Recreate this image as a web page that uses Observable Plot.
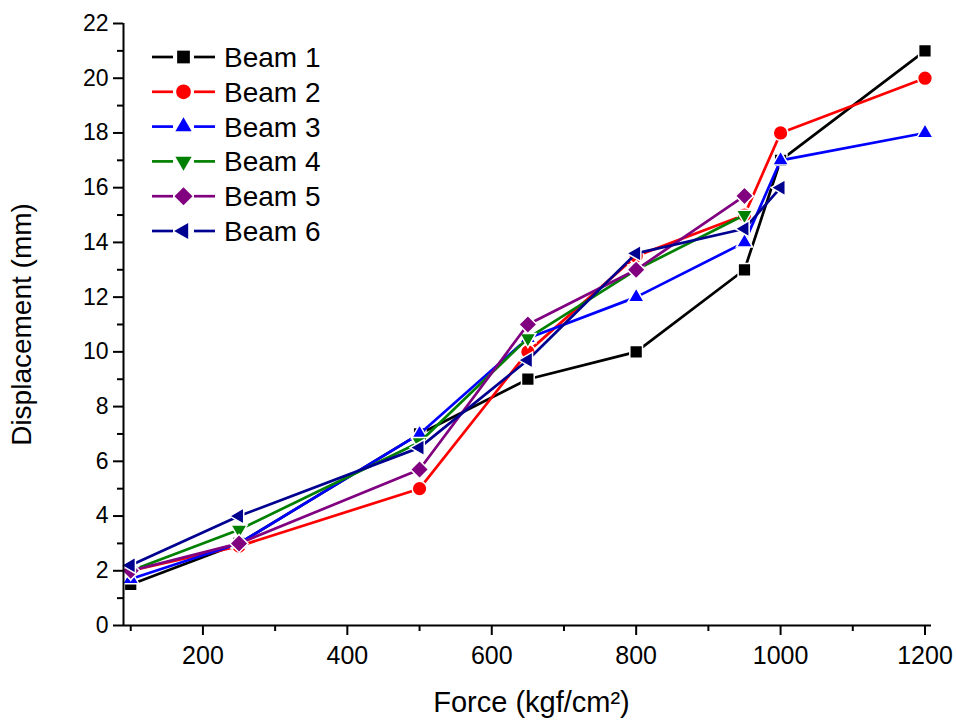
<!DOCTYPE html>
<html><head><meta charset="utf-8">
<script src="https://cdn.jsdelivr.net/npm/d3@7"></script>
<script src="https://cdn.jsdelivr.net/npm/@observablehq/plot@0.6"></script>
<style>
body{margin:0;background:#fff}
#wrap{position:relative;width:956px;height:722px}
#wrap svg{position:absolute;left:0;top:0}
</style>
</head><body><div id="wrap"></div>
<script>
const forces = [100, 250, 500, 650, 800, 950, 1000, 1200];
const beam1 = [1.5, 3, 7, 9, 10, 13, 17, 21];
const beam2 = [2, 2.9, 5, 10, 13.5, 15, 18, 20];
const beam3 = [1.7, 3, 7, 10.5, 12, 14, 17, 18];
const beam4 = [2, 3.5, 6.7, 10.5, 13, 15];
const beam5 = [2, 3, 5.7, 11, 13, 15.7];
const beam6 = [2.2, 4, 6.5, 9.7, 13.6, 14.5, 16];
const seriesNames = ["Beam 1", "Beam 2", "Beam 3", "Beam 4", "Beam 5", "Beam 6"];
const seriesValues = [beam1, beam2, beam3, beam4, beam5, beam6];
const seriesColors = ["#000000", "#ff0000", "#0000ff", "#008000", "#800080", "#000090"];
const xMajorTicks = [200, 400, 600, 800, 1000, 1200];
const xMinorTicks = [100, 300, 500, 700, 900, 1100];
const yMajorTicks = [0, 2, 4, 6, 8, 10, 12, 14, 16, 18, 20, 22];
const yMinorTicks = [1, 3, 5, 7, 9, 11, 13, 15, 17, 19, 21];
const xDomain = [90, 1209];
const yDomain = [0, 22];

const rad = s => Math.sqrt(s / Math.PI);
const symSquare = {draw(c, s){ const h = rad(s) * 0.95; c.rect(-h, -h, 2*h, 2*h); }};
const symCircle = {draw(c, s){ const r = rad(s) * 1.1; c.moveTo(r, 0); c.arc(0, 0, r, 0, 2*Math.PI); c.closePath(); }};
const symTriUp = {draw(c, s){ const R = rad(s) * 1.4; c.moveTo(0, -R); c.lineTo(0.866*R, R/2); c.lineTo(-0.866*R, R/2); c.closePath(); }};
const symTriDown = {draw(c, s){ const R = rad(s) * 1.4; c.moveTo(0, R); c.lineTo(0.866*R, -R/2); c.lineTo(-0.866*R, -R/2); c.closePath(); }};
const symDiamond = {draw(c, s){ const d = rad(s) * 1.35; c.moveTo(0, -d); c.lineTo(d, 0); c.lineTo(0, d); c.lineTo(-d, 0); c.closePath(); }};
const symTriLeft = {draw(c, s){ const R = rad(s) * 1.4; c.moveTo(-R, 0); c.lineTo(R/2, -0.866*R); c.lineTo(R/2, 0.866*R); c.closePath(); }};
const seriesSymbols = [symSquare, symCircle, symTriUp, symTriDown, symDiamond, symTriLeft];

const rows = [];
seriesValues.forEach((vals, i) => vals.forEach((v, j) => rows.push({series: seriesNames[i], force: forces[j], disp: v})));

const font = "'Liberation Sans', Arial, sans-serif";
const narrow = "'Liberation Sans Narrow', 'Arial Narrow', 'Liberation Sans', sans-serif";

const seriesMarks = [];
seriesNames.forEach((name, i) => {
  const data = rows.filter(d => d.series === name);
  seriesMarks.push(Plot.line(data, {x: "force", y: "disp", stroke: seriesColors[i], strokeWidth: 2.7}));
  seriesMarks.push(Plot.dot(data, {x: "force", y: "disp", symbol: seriesSymbols[i], r: 6.7, fill: seriesColors[i], stroke: "#fff", strokeWidth: 1.5}));
});

const chart = Plot.plot({
  width: 956, height: 722,
  marginLeft: 123, marginRight: 25, marginTop: 23, marginBottom: 97,
  style: {fontFamily: font, background: "#fff", color: "#000", fontSize: "22px"},
  x: {domain: xDomain},
  y: {domain: yDomain},
  marks: [
    ...seriesMarks,
    Plot.axisY({ticks: yMajorTicks, tickSize: 10, tickPadding: 5, strokeWidth: 2, label: null, tickFormat: d => String(d)}),
    Plot.axisY({ticks: yMinorTicks, tickSize: 6, tickFormat: () => "", strokeWidth: 2, label: null}),
    Plot.axisX({ticks: xMajorTicks, tickSize: 10, tickPadding: 11, strokeWidth: 2, label: null, tickFormat: d => String(d)}),
    Plot.axisX({ticks: xMinorTicks, tickSize: 6, tickFormat: () => "", strokeWidth: 2, label: null}),
    Plot.ruleX([xDomain[0]], {strokeWidth: 2}),
    Plot.ruleY([yDomain[0]], {strokeWidth: 2}),
    Plot.text(["Displacement (mm)"], {frameAnchor: "left", textAnchor: "middle", dx: -101, rotate: -90, fontSize: 28}),
    Plot.text(["Force (kgf/cm\u00b2)"], {frameAnchor: "bottom", textAnchor: "middle", dx: 4, dy: 86, fontSize: 29})
  ]
});
const wrap = document.getElementById("wrap");
wrap.appendChild(chart);

// tick label fonts (inline style to win over any stylesheet)
const sel = d3.select(chart);
sel.selectAll('g[aria-label="y-axis tick label"] text').style("font-size", "23px").style("font-family", font);
sel.selectAll('g[aria-label="x-axis tick label"] text').style("font-size", "25px").style("font-family", narrow).style("font-stretch", "condensed");

// legend overlay
const leg = d3.select(wrap).append("svg").attr("width", 956).attr("height", 722).style("pointer-events", "none");
seriesNames.forEach((name, i) => {
  const cy = 57 + i * 34.8;
  const g = leg.append("g").attr("transform", `translate(0,${cy})`);
  g.append("line").attr("x1", 152).attr("x2", 173).attr("y1", 0).attr("y2", 0).attr("stroke", seriesColors[i]).attr("stroke-width", 2.7);
  g.append("line").attr("x1", 194).attr("x2", 215).attr("y1", 0).attr("y2", 0).attr("stroke", seriesColors[i]).attr("stroke-width", 2.7);
  g.append("path").attr("transform", "translate(183.5,0)").attr("d", d3.symbol(seriesSymbols[i], Math.PI * 6.7 * 6.7)()).attr("fill", seriesColors[i]);
  g.append("text").attr("x", 224).attr("y", 0).attr("dy", "0.36em").attr("font-size", 28).attr("font-family", font).text(name);
});
</script>
</body></html>
